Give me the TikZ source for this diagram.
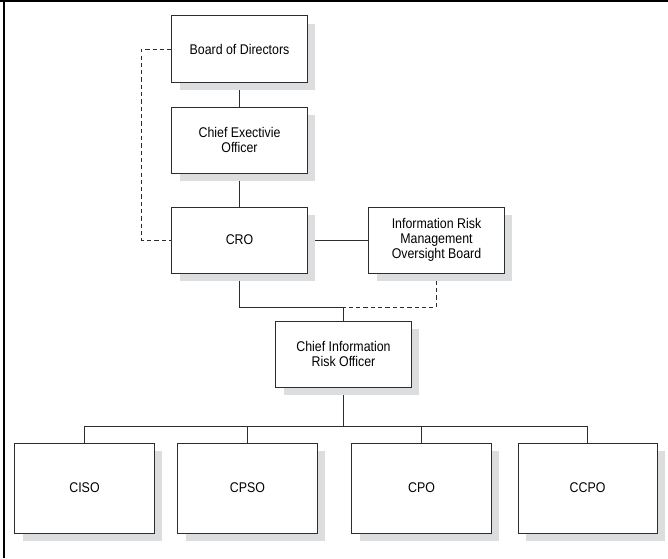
\documentclass[tikz,border=0pt]{standalone}
\usepackage{fontspec}
\setmainfont{Liberation Sans}[FakeStretch=0.88]
\usepackage{xcolor}
\usetikzlibrary{shadows,backgrounds}

\definecolor{ombra}{RGB}{220,221,223}
\definecolor{tratto}{RGB}{45,45,45}

\begin{document}
\begin{tikzpicture}[x=0.025cm, y=-0.025cm,
		line join=miter,
		box/.style={draw=tratto, line width=0.7pt, fill=white, align=center,
				minimum width=3.375cm, minimum height=1.65cm, inner sep=2pt,
				font=\fontsize{10}{10.5}\selectfont,
				general shadow={fill=ombra, shadow xshift=0.2cm, shadow yshift=-0.2cm}},
		foglia/.style={box, minimum width=3.475cm, minimum height=2.25cm},
		link/.style={draw=tratto, line width=0.6pt},
		dashlink/.style={link, dash pattern=on 3pt off 2.2pt}]

	\useasboundingbox (0,0) rectangle (668,558);

	% ---- cornice (solo lato alto e sinistro) ----
	\draw[line width=1pt] (0,1) -- (668,1);
	\draw[line width=1pt] (4,0) -- (4,558);

	% ---- vertice ----
	\node[box] (board) at (239.5,49)  {Board of Directors};
	\node[box] (ceo)   at (239.5,140) {Chief Exectivie\\Officer};
	\node[box] (cro)   at (239.5,240) {CRO};
	\node[box] (irmob) at (436.5,240) {Information Risk\\Management\\Oversight Board};
	\node[box] (ciro)  at (343.5,354) {Chief Information\\Risk Officer};

	% ---- riporti ----
	\node[foglia] (ciso) at (84.5,488)  {CISO};
	\node[foglia] (cpso) at (247.5,488) {CPSO};
	\node[foglia] (cpo)  at (421.5,488) {CPO};
	\node[foglia] (ccpo) at (587.5,488) {CCPO};

	% ---- collegamenti (sotto le ombre) ----
	\coordinate (nodo) at (343.5,307);
	\coordinate (bus)  at (343.5,426);
	\begin{scope}[on background layer]
		\draw[link] (board) -- (ceo);
		\draw[link] (ceo) -- (cro);
		\draw[link] (cro.east) -- (irmob.west);
		\draw[dashlink] (board.west) -- ++(-30,0) |- (cro.west);
		\draw[link] (cro.south) |- (nodo) -- (ciro.north);
		\draw[dashlink] (irmob.south) |- (nodo);
		\draw[link] (ciro.south) -- (bus);
		\foreach \n in {ciso,cpso,cpo,ccpo}
		\draw[link] (bus) -| (\n.north);
	\end{scope}

\end{tikzpicture}
\end{document}
